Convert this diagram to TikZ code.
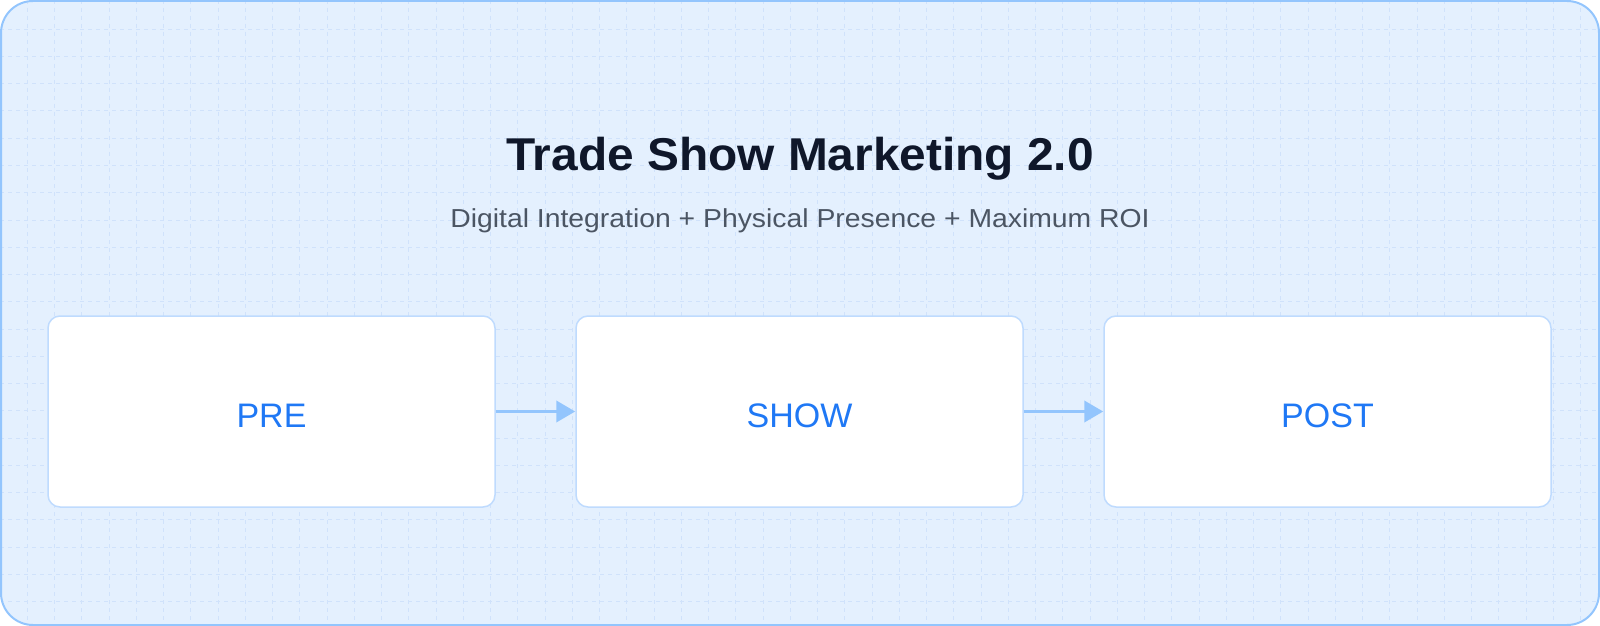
\documentclass[tikz,border=0pt]{standalone}
\usepackage{fontspec}
\setmainfont{Liberation Sans}
\newfontfamily\titlefont[FakeStretch=1.04]{Liberation Sans}
\newfontfamily\subfont[FakeStretch=1.09]{Liberation Sans}
\usetikzlibrary{arrows.meta}
\definecolor{canvas}{HTML}{E4F0FE}
\definecolor{frameline}{HTML}{93C5FD}
\definecolor{gridline}{HTML}{D0E2FB}
\definecolor{stageline}{HTML}{BFDBFE}
\definecolor{stagetext}{HTML}{1F78F5}
\definecolor{flowline}{HTML}{93C5FD}
\definecolor{titletext}{HTML}{0F172A}
\definecolor{subtext}{HTML}{4B5563}

\begin{document}
\begin{tikzpicture}[x=0.5pt, y=-0.5pt,
    grid/.style={draw=gridline, line width=0.5pt, dash pattern=on 2pt off 2pt},
    stage/.style={draw=stageline, line width=0.75pt, fill=white, rounded corners=6pt,
      minimum width=223.5pt, minimum height=95.5pt, inner sep=0pt,
      text height=15.6pt, text depth=0pt,
      font=\fontsize{17}{20}\selectfont, text=stagetext},
    flow/.style={draw=flowline, line width=1.9pt, -{Triangle[length=9.5pt,width=10.5pt]}}]
    \useasboundingbox (0,0) rectangle (1600,626);
    \fill[canvas, rounded corners=16pt] (1,1) rectangle (1599,625);
    \begin{scope}
      \clip[rounded corners=16pt] (2,2) rectangle (1598,624);
      \foreach \x in {1,...,58} \draw[grid] (27.25*\x,0) -- (27.25*\x,626);
      \foreach \y in {0,...,22} \draw[grid] (0,2+27.25*\y) -- (1600,2+27.25*\y);
    \end{scope}
    \draw[frameline, line width=1pt, rounded corners=16pt] (1,1) rectangle (1599,625);
    \node[anchor=base, text=titletext, font=\fontsize{23}{27}\titlefont\bfseries] (title) at (800,170) {Trade Show Marketing 2.0};
    \node[anchor=base, text=subtext, font=\fontsize{13}{15}\subfont] (subtitle) at (800,227) {Digital Integration + Physical Presence + Maximum ROI};
    \node[stage] (pre)  at (271.5,411.5)  {PRE};
    \node[stage] (show) at (799.5,411.5)  {SHOW};
    \node[stage] (post) at (1327.5,411.5) {POST};
    \draw[flow] (pre) -- (show);
    \draw[flow] (show) -- (post);
  \end{tikzpicture}
\end{document}
